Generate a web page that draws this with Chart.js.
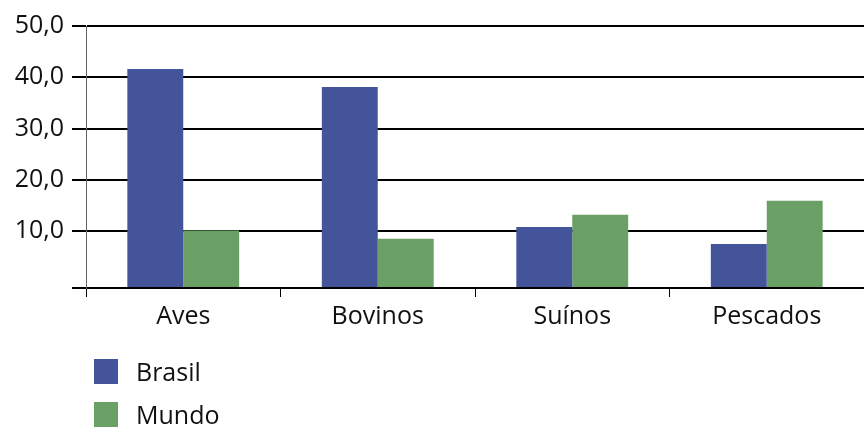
<!DOCTYPE html>
<html>
<head>
<meta charset="utf-8">
<script src="https://cdn.jsdelivr.net/npm/chart.js@4.4.0/dist/chart.umd.min.js"></script>
<style>
    body { margin: 0; background: #fff; font-family: "Open Sans", sans-serif; }
    #wrap { position: relative; width: 864px; height: 427px; }
    .legend-item { position: absolute; left: 94px; display: flex; align-items: center; font-size: 25px; line-height: 25px; height: 25px; color: #111; }
    .legend-item .box { width: 24px; height: 25px; margin-right: 18px; }
</style>
</head>
<body>
<div id="wrap">
    <canvas id="barChart" width="864" height="427"></canvas>
    <div id="legend"></div>
</div>
<script>
// --- data ---
const categories = ['Aves', 'Bovinos', 'Suínos', 'Pescados'];
const brasil = [41.6, 38.1, 10.8, 7.5];
const mundo = [10.1, 8.5, 13.2, 15.9];
const yTicks = [10, 20, 30, 40, 50];

const seriesNames = ['Brasil', 'Mundo'];
const seriesColors = ['#44549b', '#6a9f65'];

// baseline sits a bit below the zero of the value scale in the original
const axisFloor = -1.1;

const ctx = document.getElementById('barChart').getContext('2d');
const chart = new Chart(ctx, {
    type: 'bar',
    data: {
        labels: categories,
        datasets: [brasil, mundo].map((d, i) => ({
            label: seriesNames[i],
            data: d,
            backgroundColor: seriesColors[i],
            base: axisFloor,
            barPercentage: 1,
            categoryPercentage: 0.575
        }))
    },
    options: {
        responsive: false,
        animation: false,
        layout: { padding: { top: 26, right: 0, bottom: 0, left: 0 } },
        plugins: {
            legend: { display: false },
            tooltip: { enabled: false }
        },
        scales: {
            x: {
                grid: { drawOnChartArea: false, color: '#000', lineWidth: 1, tickLength: 9, offset: true },
                border: { display: true, color: '#000', width: 2 },
                ticks: { color: '#111', font: { family: 'Open Sans', size: 25 }, padding: 5 },
                afterFit: s => { s.height = 139; }
            },
            y: {
                min: axisFloor,
                max: 50,
                afterBuildTicks: axis => {
                    axis.ticks = [axisFloor].concat(yTicks).map(v => ({ value: v }));
                },
                grid: { color: '#000', lineWidth: 2, tickLength: 14 },
                border: { display: true, color: '#666', width: 1 },
                ticks: {
                    color: '#111',
                    padding: 8,
                    font: { family: 'Open Sans', size: 25 },
                    callback: v => v < 0 ? '' : v.toFixed(1).replace('.', ',')
                },
                afterFit: s => { s.width = 86; }
            }
        }
    }
});

// --- legend as a vertical list under the chart ---
const legend = document.getElementById('legend');
seriesNames.forEach((name, i) => {
    const item = document.createElement('div');
    item.className = 'legend-item';
    item.style.top = (359 + i * 43) + 'px';
    item.innerHTML = '<span class="box" style="background:' + seriesColors[i] + '"></span>' + name;
    legend.appendChild(item);
});
</script>
</body>
</html>
